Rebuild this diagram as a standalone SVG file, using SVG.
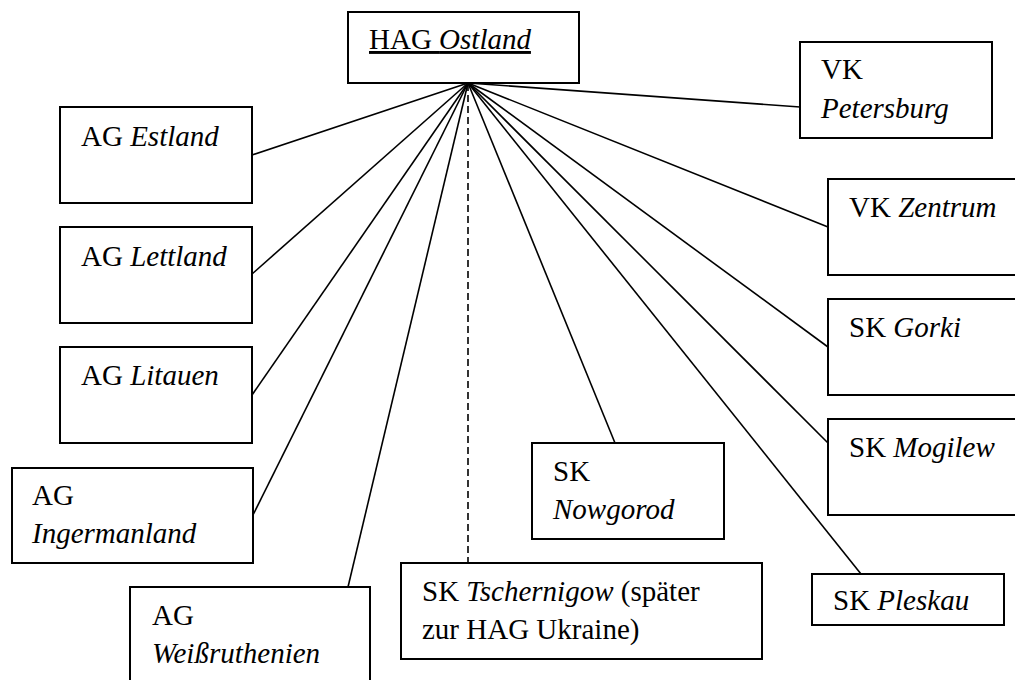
<svg xmlns="http://www.w3.org/2000/svg" width="1015" height="680" viewBox="0 0 1015 680">
<style>
.box{fill:#fff;stroke:#000;stroke-width:2}
.t{font-family:"Liberation Serif","Times New Roman",serif;font-size:29px;fill:#000}
.i{font-style:italic}
.ln{stroke:#000;stroke-width:1.6;fill:none}
.dash{stroke:#000;stroke-width:1.6;fill:none;stroke-dasharray:7,4}
</style>
<rect x="0" y="0" width="1015" height="680" fill="#fff"/>
<g id="connectors">
<line class="ln" x1="468" y1="83" x2="252" y2="155"/>
<line class="ln" x1="468" y1="83" x2="252" y2="274"/>
<line class="ln" x1="468" y1="83" x2="252" y2="395"/>
<line class="ln" x1="468" y1="83" x2="253" y2="515"/>
<line class="ln" x1="468" y1="83" x2="348" y2="587"/>
<line class="dash" x1="468" y1="84" x2="468" y2="563"/>
<line class="ln" x1="468" y1="83" x2="615" y2="443"/>
<line class="ln" x1="468" y1="83" x2="861" y2="574"/>
<line class="ln" x1="468" y1="83" x2="828" y2="443"/>
<line class="ln" x1="468" y1="83" x2="828" y2="347"/>
<line class="ln" x1="468" y1="83" x2="828" y2="227"/>
<line class="ln" x1="468" y1="83" x2="800" y2="107"/>
</g>
<g id="hag-ostland">
<rect class="box" x="348" y="12" width="231" height="71"/>
<text class="t" x="369" y="49" text-decoration="underline">HAG <tspan class="i">Ostland</tspan></text>
</g>
<g id="ag-estland">
<rect class="box" x="60" y="107" width="192" height="96"/>
<text class="t" x="81" y="146">AG <tspan class="i">Estland</tspan></text>
</g>
<g id="ag-lettland">
<rect class="box" x="60" y="227" width="192" height="96"/>
<text class="t" x="81" y="266">AG <tspan class="i">Lettland</tspan></text>
</g>
<g id="ag-litauen">
<rect class="box" x="60" y="347" width="192" height="96"/>
<text class="t" x="81" y="385">AG <tspan class="i">Litauen</tspan></text>
</g>
<g id="ag-ingermanland">
<rect class="box" x="12" y="468" width="241" height="95"/>
<text class="t" x="32" y="505">AG</text>
<text class="t i" x="32" y="543">Ingermanland</text>
</g>
<g id="ag-weissruthenien">
<rect class="box" x="130" y="587" width="240" height="100"/>
<text class="t" x="152" y="625">AG</text>
<text class="t i" x="152" y="663">Weißruthenien</text>
</g>
<g id="sk-tschernigow">
<rect class="box" x="401" y="563" width="361" height="96"/>
<text class="t" x="422" y="601">SK <tspan class="i">Tschernigow</tspan> (später</text>
<text class="t" x="422" y="639">zur HAG Ukraine)</text>
</g>
<g id="sk-nowgorod">
<rect class="box" x="532" y="443" width="192" height="96"/>
<text class="t" x="553" y="481">SK</text>
<text class="t i" x="553" y="519">Nowgorod</text>
</g>
<g id="vk-petersburg">
<rect class="box" x="800" y="42" width="192" height="96"/>
<text class="t" x="821" y="79">VK</text>
<text class="t i" x="821" y="118">Petersburg</text>
</g>
<g id="vk-zentrum">
<rect class="box" x="828" y="179" width="200" height="96"/>
<text class="t" x="849" y="217">VK <tspan class="i">Zentrum</tspan></text>
</g>
<g id="sk-gorki">
<rect class="box" x="828" y="299" width="200" height="96"/>
<text class="t" x="849" y="337">SK <tspan class="i">Gorki</tspan></text>
</g>
<g id="sk-mogilew">
<rect class="box" x="828" y="419" width="200" height="96"/>
<text class="t" x="849" y="457">SK <tspan class="i">Mogilew</tspan></text>
</g>
<g id="sk-pleskau">
<rect class="box" x="812" y="574" width="192" height="51"/>
<text class="t" x="833" y="610">SK <tspan class="i">Pleskau</tspan></text>
</g>
</svg>
